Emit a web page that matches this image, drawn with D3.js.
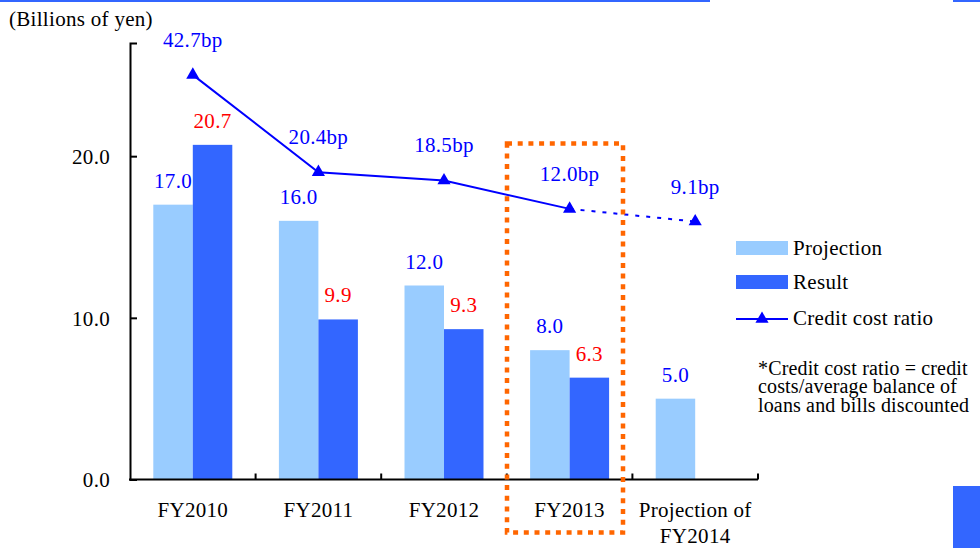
<!DOCTYPE html>
<html>
<head>
<meta charset="utf-8">
<script src="https://cdn.jsdelivr.net/npm/d3@7"></script>
<style>
  html, body { margin: 0; padding: 0; background: #fff; }
  svg { display: block; }
  svg text { font-family: "Liberation Serif", "Times New Roman", serif; letter-spacing: 0.3px; }
</style>
</head>
<body>
<svg id="chart" width="980" height="548" font-family="Liberation Serif, Times New Roman, serif"></svg>
<script>
// Credit costs by fiscal year (billions of yen) and credit cost ratio (bp)
const categories = ["FY2010", "FY2011", "FY2012", "FY2013", "Projection of FY2014"];
const categoryLines = [["FY2010"], ["FY2011"], ["FY2012"], ["FY2013"], ["Projection of", "FY2014"]];
const projection = [17.0, 16.0, 12.0, 8.0, 5.0];
const result = [20.7, 9.9, 9.3, 6.3, null];
const creditCostRatio = [42.7, 20.4, 18.5, 12.0, 9.1];
const yTicks = [0, 10, 20];
const seriesNames = ["Projection", "Result", "Credit cost ratio"];
const noteLines = ["*Credit cost ratio = credit", "costs/average balance of", "loans and bills discounted"];

const colors = { projection: "#99ccff", result: "#3366ff", line: "#0000ff", projLabel: "#0000ff", resLabel: "#ff0000", box: "#ff6600" };

const svg = d3.select("#chart");
const FONT = 21;

// Scales
const x = d3.scaleBand().domain(categories).range([130, 758]).paddingInner(0).paddingOuter(0);
const xs = d3.scaleBand().domain(["Projection", "Result"]).range([0, x.bandwidth()]).paddingInner(0).paddingOuter(0.59);
const y = d3.scaleLinear().domain([0, 27]).range([479.5, 43]);
const y2 = d3.scaleLinear().domain([-50, 50]).range([479.5, 43]);

// Page decoration strips
svg.append("rect").attr("x", 0).attr("y", 0).attr("width", 710).attr("height", 2).attr("fill", colors.result);
svg.append("rect").attr("x", 953).attr("y", 0).attr("width", 27).attr("height", 2).attr("fill", colors.result);
svg.append("rect").attr("x", 953).attr("y", 486).attr("width", 27).attr("height", 62).attr("fill", colors.result);

// Unit label
svg.append("text").attr("x", 9).attr("y", 26).attr("font-size", FONT).attr("fill", "#000").text("(Billions of yen)");

// Bars
const g = svg.append("g");
categories.forEach((c, i) => {
  const x0 = x(c);
  g.append("rect")
    .attr("x", x0 + xs("Projection")).attr("y", y(projection[i]))
    .attr("width", xs.bandwidth()).attr("height", y(0) - y(projection[i]))
    .attr("fill", colors.projection);
  g.append("text")
    .attr("x", x0 + xs("Projection") + xs.bandwidth() / 2).attr("y", y(projection[i]) - 17)
    .attr("text-anchor", "middle").attr("font-size", FONT).attr("fill", colors.projLabel)
    .text(projection[i].toFixed(1));
  if (result[i] != null) {
    g.append("rect")
      .attr("x", x0 + xs("Result")).attr("y", y(result[i]))
      .attr("width", xs.bandwidth()).attr("height", y(0) - y(result[i]))
      .attr("fill", colors.result);
    g.append("text")
      .attr("x", x0 + xs("Result") + xs.bandwidth() / 2).attr("y", y(result[i]) - 17)
      .attr("text-anchor", "middle").attr("font-size", FONT).attr("fill", colors.resLabel)
      .text(result[i].toFixed(1));
  }
});

// Y axis
const yAxis = d3.axisLeft(y).tickValues(yTicks).tickFormat(d3.format(".1f")).tickSize(-7).tickPadding(20);
const ya = svg.append("g").attr("transform", "translate(130,0)").call(yAxis)
  .attr("font-family", "Liberation Serif, Times New Roman, serif").attr("font-size", FONT);
ya.select(".domain").attr("stroke", "#000").attr("stroke-width", 2);
ya.selectAll(".tick line").attr("stroke", "#000").attr("stroke-width", 2);
ya.selectAll(".tick text").attr("font-size", FONT).attr("fill", "#000").attr("dy", "0.35em");

// X axis baseline with boundary ticks
svg.append("line").attr("x1", 129).attr("x2", 758).attr("y1", y(0)).attr("y2", y(0)).attr("stroke", "#000").attr("stroke-width", 2);
categories.forEach(c => {
  const bx = x(c) + x.bandwidth();
  svg.append("line").attr("x1", bx).attr("x2", bx).attr("y1", y(0)).attr("y2", y(0) - 6).attr("stroke", "#000").attr("stroke-width", 2);
});
categories.forEach((c, i) => {
  const cx = x(c) + x.bandwidth() / 2;
  const t = svg.append("text").attr("x", cx).attr("y", 517)
    .attr("text-anchor", "middle").attr("font-size", FONT).attr("fill", "#000");
  categoryLines[i].forEach((ln, j) => {
    t.append("tspan").attr("x", cx).attr("dy", j === 0 ? 0 : 26).text(ln);
  });
});

// Credit cost ratio line: actual values solid, projection dotted
const pts = creditCostRatio.map((v, i) => [x(categories[i]) + x.bandwidth() / 2, y2(v)]);
const line = d3.line();
svg.append("path").attr("d", line(pts.slice(0, 4))).attr("fill", "none").attr("stroke", colors.line).attr("stroke-width", 2);
svg.append("path").attr("d", line(pts.slice(3))).attr("fill", "none").attr("stroke", colors.line).attr("stroke-width", 2).attr("stroke-dasharray", "4 7");
const tri = d3.symbol().type(d3.symbolTriangle).size(75);
pts.forEach((p, i) => {
  svg.append("path").attr("d", tri()).attr("transform", `translate(${p[0]},${p[1]})`).attr("fill", colors.line);
  svg.append("text").attr("x", p[0]).attr("y", p[1] - 28).attr("text-anchor", "middle")
    .attr("font-size", FONT).attr("fill", colors.projLabel).text(creditCostRatio[i].toFixed(1) + "bp");
});

// Highlight box around FY2013
svg.append("rect").attr("x", 507).attr("y", 143.5).attr("width", 116).attr("height", 389)
  .attr("fill", "none").attr("stroke", colors.box).attr("stroke-width", 4.5).attr("stroke-dasharray", "5 5.7");

// Legend
const lg = svg.append("g");
lg.append("rect").attr("x", 736).attr("y", 241).attr("width", 52).attr("height", 14).attr("fill", colors.projection);
lg.append("text").attr("x", 793).attr("y", 255).attr("font-size", FONT).text(seriesNames[0]);
lg.append("rect").attr("x", 736).attr("y", 275).attr("width", 52).attr("height", 14).attr("fill", colors.result);
lg.append("text").attr("x", 793).attr("y", 289).attr("font-size", FONT).text(seriesNames[1]);
lg.append("line").attr("x1", 736).attr("x2", 788).attr("y1", 319).attr("y2", 319).attr("stroke", colors.line).attr("stroke-width", 2);
lg.append("path").attr("d", tri()).attr("transform", "translate(762,319)").attr("fill", colors.line);
lg.append("text").attr("x", 793).attr("y", 325).attr("font-size", FONT).text(seriesNames[2]);

// Footnote
const note = svg.append("text").attr("x", 758).attr("y", 375).attr("font-size", 20)
  .style("letter-spacing", "0.15px").attr("fill", "#000");
noteLines.forEach((ln, j) => note.append("tspan").attr("x", 758).attr("dy", j === 0 ? 0 : 18.3).text(ln));
</script>
</body>
</html>
